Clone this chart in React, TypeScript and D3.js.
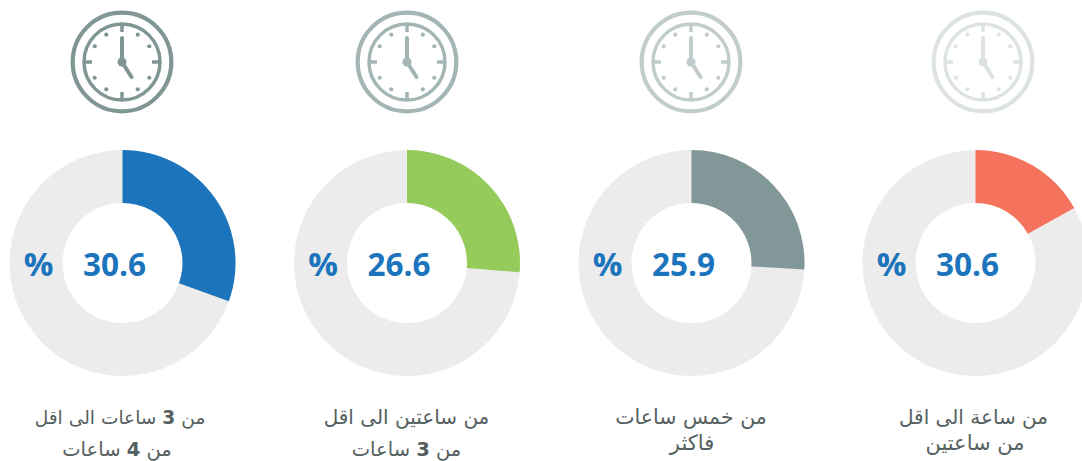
import React from "react";
import * as d3 from "d3";

const centerLabels = ["30.6", "26.6", "25.9", "30.6"];
const arcShares = [30.5, 26.3, 25.9, 16.9];
const sliceColors = ["#1c75bc", "#95cb5a", "#829797", "#f5735c"];
const clockColors = ["#7f9694", "#a3b5b4", "#c1cdcc", "#dde3e2"];
const labelFirstLines = ["من 3 ساعات الى اقل", "من ساعتين الى اقل", "من خمس ساعات", "من ساعة الى اقل"];
const labelSecondLines = ["من 4 ساعات", "من 3 ساعات", "فاكثر", "من ساعتين"];
const donutCenters = [122.5, 407, 691.5, 975.5];
const clockCenters = [122, 407, 691, 983];
const firstLineCenters = [120, 406.5, 691, 973.5];
const secondLineCenters = [117, 406.5, 692, 975];
const secondLineBaselines = [456, 456, 450, 450];
const firstLineSizes = [18.6, 20, 20.5, 20];
const secondLineSizes = [19.5, 19.5, 21, 21];

const arc = d3.arc<any>();
const slot = d3.scaleLinear().domain([0, 100]).range([0, 2 * Math.PI]);

function Clock({ cx, color }: { cx: number; color: string }) {
  const hours = d3.range(12);
  return (
    <g transform={`translate(${cx},62)`} stroke={color} fill="none" strokeLinecap="round">
      <circle r={49.3} strokeWidth={4.2} />
      <circle r={38} strokeWidth={3.5} />
      {hours.map((h) => {
        const a = (h * Math.PI) / 6;
        const s = Math.sin(a), c = Math.cos(a);
        return h % 3 === 0 ? (
          <line key={h} x1={s * 30} y1={-c * 30} x2={s * 37} y2={-c * 37} strokeWidth={3.5} strokeLinecap="butt" />
        ) : (
          <circle key={h} cx={s * 31.5} cy={-c * 31.5} r={2.1} fill={color} stroke="none" />
        );
      })}
      <line x1={0} y1={0} x2={0} y2={-24} strokeWidth={4} />
      <line x1={0} y1={0} x2={9.5} y2={15} strokeWidth={4} />
      <circle r={4.5} fill={color} stroke="none" />
    </g>
  );
}

function Label({ text, x, y, size }: { text: string; x: number; y: number; size: number }) {
  const parts = text.split(/(\d)/);
  return (
    <text x={x} y={y} direction="rtl" fontSize={size}>
      {parts.map((p, i) => (
        <tspan key={i} fontWeight={/\d/.test(p) ? 700 : 400}>{p}</tspan>
      ))}
    </text>
  );
}

export default function App() {
  const arabic = "'DejaVu Sans', 'Noto Sans', sans-serif";
  const bold = "'Open Sans', sans-serif";
  return (
    <svg width={1082} height={461} style={{ position: "absolute", left: 0, top: 0 }}>
      {donutCenters.map((cx, i) => (
        <g key={i} transform={`translate(${cx},263)`}>
          <path d={arc({ innerRadius: 60, outerRadius: 113, startAngle: 0, endAngle: 2 * Math.PI })!} fill="#ececec" />
          <path d={arc({ innerRadius: 60, outerRadius: 113, startAngle: 0, endAngle: slot(arcShares[i]) })!} fill={sliceColors[i]} />
          <text x={-8} y={13} textAnchor="middle" fontFamily={bold} fontWeight={700} fontSize={31.5} fill="#1c75bc">{centerLabels[i]}</text>
          <text x={-84} y={13} textAnchor="middle" fontFamily={bold} fontWeight={700} fontSize={33} fill="#1c75bc">%</text>
        </g>
      ))}
      {clockCenters.map((cx, i) => <Clock key={i} cx={cx} color={clockColors[i]} />)}
      {firstLineCenters.map((cx, i) => (
        <g key={i} fontFamily={arabic} fill="#555f60" textAnchor="middle">
          <Label text={labelFirstLines[i]} x={cx} y={424} size={firstLineSizes[i]} />
          <Label text={labelSecondLines[i]} x={secondLineCenters[i]} y={secondLineBaselines[i]} size={secondLineSizes[i]} />
        </g>
      ))}
    </svg>
  );
}
